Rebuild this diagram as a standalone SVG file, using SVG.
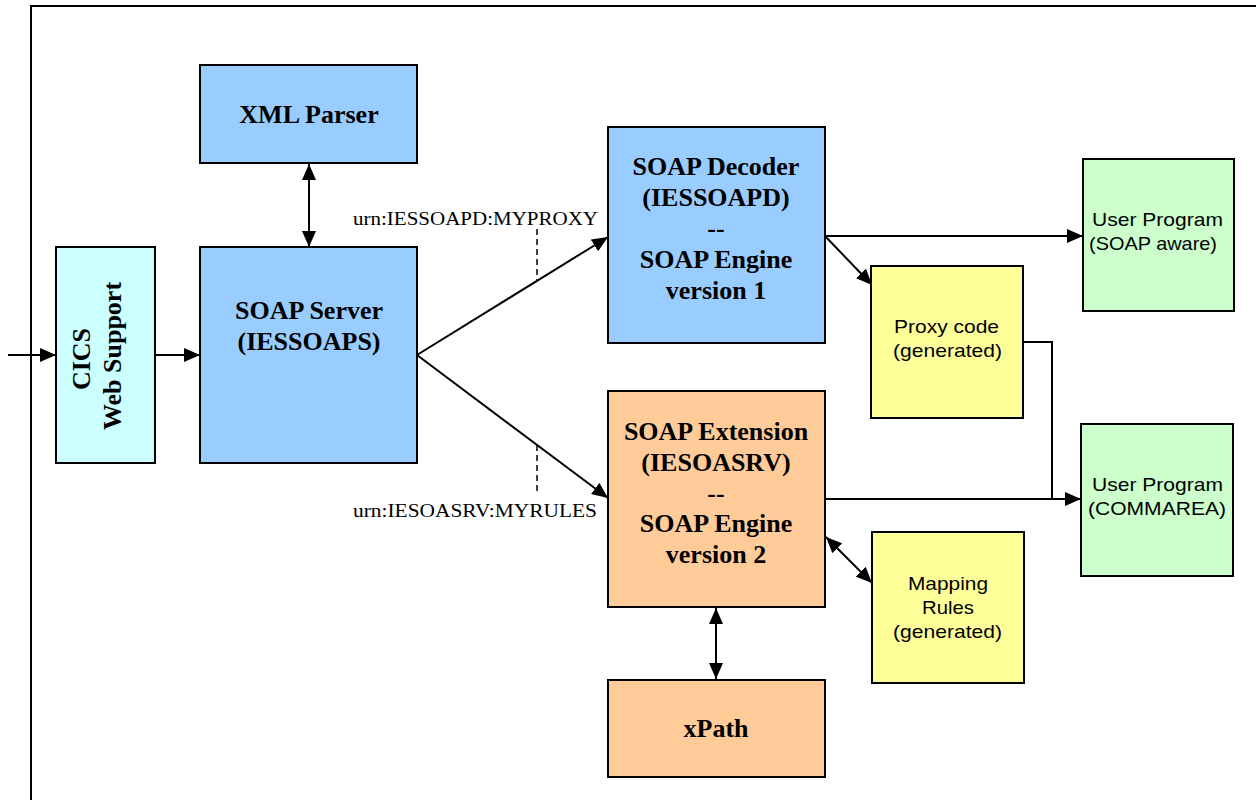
<svg xmlns="http://www.w3.org/2000/svg" width="1256" height="800" viewBox="0 0 1256 800">
<style>
.box{stroke:#000;stroke-width:2}
.blue{fill:#99CCFF}.cyan{fill:#CCFFFF}.orange{fill:#FFCC99}.yellow{fill:#FFFF99}.green{fill:#CCFFCC}
.tb{font-family:"Liberation Serif","Times New Roman",serif;font-weight:bold;font-size:26px;fill:#000;text-anchor:middle}
.tr{font-family:"Liberation Serif","Times New Roman",serif;font-size:19px;fill:#000}
.ts{font-family:"Liberation Sans",Arial,sans-serif;font-size:19px;fill:#000}
.ln{stroke:#000;stroke-width:2;fill:none}
.dash{stroke:#000;stroke-width:1.5;stroke-dasharray:6,4;fill:none}
</style>
<defs>
<marker id="ah" markerUnits="userSpaceOnUse" markerWidth="17" markerHeight="14" refX="16" refY="7" orient="auto-start-reverse">
<path d="M0,0 L16,7 L0,14 z" fill="#000"/>
</marker>
</defs>
<rect width="1256" height="800" fill="#fff"/>
<g id="frame">
<path d="M31,810 L31,6 L1270,6" stroke="#000" stroke-width="2" fill="none"/>
</g>
<g id="connectors">
<line class="ln" x1="8" y1="355" x2="56" y2="355" marker-end="url(#ah)"/>
<line class="ln" x1="155" y1="355" x2="200" y2="355" marker-end="url(#ah)"/>
<line class="ln" x1="309" y1="164" x2="309" y2="247" marker-start="url(#ah)" marker-end="url(#ah)"/>
<line class="ln" x1="417" y1="355" x2="608" y2="237" marker-end="url(#ah)"/>
<line class="ln" x1="417" y1="355" x2="608" y2="498" marker-end="url(#ah)"/>
<line class="dash" x1="537" y1="229" x2="537" y2="280"/>
<line class="dash" x1="537" y1="445" x2="537" y2="493"/>
<line class="ln" x1="825" y1="236" x2="1083" y2="236" marker-end="url(#ah)"/>
<line class="ln" x1="825" y1="236" x2="872" y2="285" marker-end="url(#ah)"/>
<path class="ln" d="M1023,342 L1052,342 L1052,499"/>
<line class="ln" x1="825" y1="499" x2="1081" y2="499" marker-end="url(#ah)"/>
<line class="ln" x1="826" y1="537" x2="872" y2="583" marker-start="url(#ah)" marker-end="url(#ah)"/>
<line class="ln" x1="716" y1="608" x2="716" y2="679" marker-start="url(#ah)" marker-end="url(#ah)"/>
<text class="tr" x="353" y="225" textLength="245" lengthAdjust="spacingAndGlyphs">urn:IESSOAPD:MYPROXY</text>
<text class="tr" x="353" y="517" textLength="244" lengthAdjust="spacingAndGlyphs">urn:IESOASRV:MYRULES</text>
</g>
<g id="xml-parser">
<rect class="box blue" x="200" y="65" width="217" height="98"/>
<text class="tb" x="309" y="123">XML Parser</text>
</g>
<g id="cics">
<rect class="box cyan" x="56" y="247" width="99" height="216"/>
<text class="tb" transform="translate(90,359) rotate(-90)">CICS</text>
<text class="tb" transform="translate(121,356) rotate(-90)">Web Support</text>
</g>
<g id="soap-server">
<rect class="box blue" x="200" y="247" width="217" height="216"/>
<text class="tb" x="309" y="319">SOAP Server</text>
<text class="tb" x="309" y="350">(IESSOAPS)</text>
</g>
<g id="soap-decoder">
<rect class="box blue" x="608" y="127" width="217" height="216"/>
<text class="tb" x="716" y="175">SOAP Decoder</text>
<text class="tb" x="716" y="206">(IESSOAPD)</text>
<text class="tb" x="716" y="237">--</text>
<text class="tb" x="716" y="268">SOAP Engine</text>
<text class="tb" x="716" y="299">version 1</text>
</g>
<g id="soap-extension">
<rect class="box orange" x="608" y="391" width="217" height="216"/>
<text class="tb" x="716" y="440">SOAP Extension</text>
<text class="tb" x="716" y="471">(IESOASRV)</text>
<text class="tb" x="716" y="502">--</text>
<text class="tb" x="716" y="532">SOAP Engine</text>
<text class="tb" x="716" y="563">version 2</text>
</g>
<g id="xpath">
<rect class="box orange" x="608" y="680" width="217" height="97"/>
<text class="tb" x="716" y="737">xPath</text>
</g>
<g id="user-program-soap">
<rect class="box green" x="1083" y="159" width="151" height="152"/>
<text class="ts" x="1092" y="226" textLength="131" lengthAdjust="spacingAndGlyphs">User Program</text>
<text class="ts" x="1089" y="250" textLength="128" lengthAdjust="spacingAndGlyphs">(SOAP aware)</text>
</g>
<g id="proxy-code">
<rect class="box yellow" x="871" y="266" width="152" height="152"/>
<text class="ts" x="894" y="333" textLength="105" lengthAdjust="spacingAndGlyphs">Proxy code</text>
<text class="ts" x="893" y="357" textLength="109" lengthAdjust="spacingAndGlyphs">(generated)</text>
</g>
<g id="user-program-commarea">
<rect class="box green" x="1081" y="424" width="152" height="152"/>
<text class="ts" x="1092" y="491" textLength="131" lengthAdjust="spacingAndGlyphs">User Program</text>
<text class="ts" x="1088" y="515" textLength="138" lengthAdjust="spacingAndGlyphs">(COMMAREA)</text>
</g>
<g id="mapping-rules">
<rect class="box yellow" x="872" y="532" width="152" height="151"/>
<text class="ts" x="908" y="590" textLength="80" lengthAdjust="spacingAndGlyphs">Mapping</text>
<text class="ts" x="922" y="614" textLength="52" lengthAdjust="spacingAndGlyphs">Rules</text>
<text class="ts" x="893" y="638" textLength="109" lengthAdjust="spacingAndGlyphs">(generated)</text>
</g>
</svg>
